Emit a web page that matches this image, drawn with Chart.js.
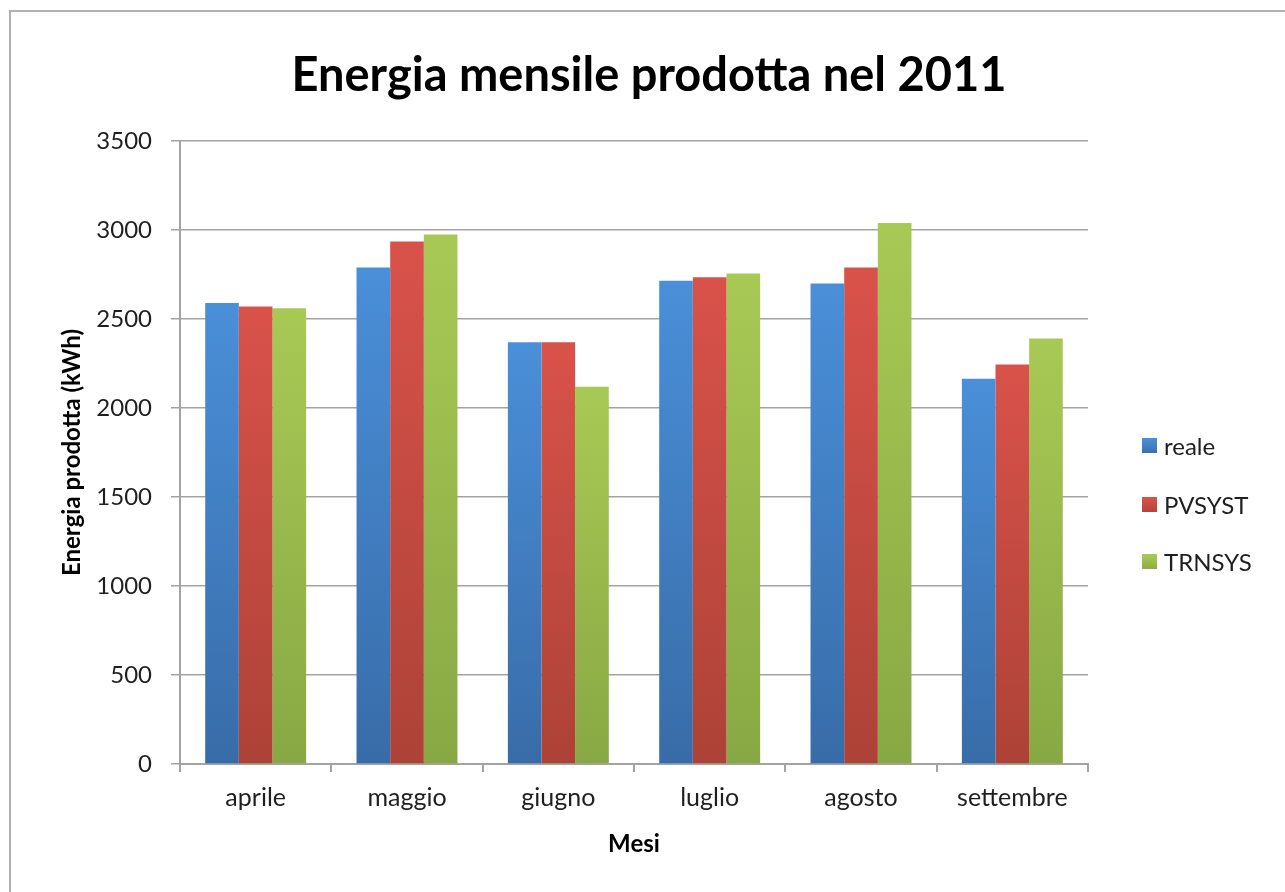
<!DOCTYPE html>
<html>
<head>
<meta charset="utf-8">
<script src="https://cdn.jsdelivr.net/npm/chart.js@4/dist/chart.umd.min.js"></script>
<style>
  html, body { margin: 0; padding: 0; background: #ffffff; }
  #wrap { width: 1285px; height: 892px; }
</style>
</head>
<body>
<div id="wrap"><canvas id="c" width="1285" height="892"></canvas></div>
<script>
// Monthly energy produced in 2011 (kWh): measured vs. two simulation tools
const months = ['aprile', 'maggio', 'giugno', 'luglio', 'agosto', 'settembre'];
const reale  = [2590, 2790, 2370, 2715, 2700, 2165];
const pvsyst = [2570, 2935, 2370, 2735, 2790, 2245];
const trnsys = [2560, 2975, 2120, 2755, 3040, 2390];
const seriesNames = ['reale', 'PVSYST', 'TRNSYS'];
const yTickValues = [0, 500, 1000, 1500, 2000, 2500, 3000, 3500];
const chartTitle = 'Energia mensile prodotta nel 2011';

// top / bottom shades of each series' vertical gradient
const shades = [
  ['#4a8fd9', '#386ca8'],
  ['#d9524a', '#ad4237'],
  ['#a9c955', '#88a844']
];

const FONT = 'Lato, "Open Sans", sans-serif';
const TEXT = '#1f1f1f';
const GRID = '#a3a3a3';

function barFill(i) {
  return (ctx) => {
    const chart = ctx.chart;
    const ys = chart.scales && chart.scales.y;
    if (!chart.chartArea || !ys || ctx.type !== 'data') return shades[i][1];
    const top = ys.getPixelForValue(ctx.raw);
    const base = ys.getPixelForValue(0);
    const g = chart.ctx.createLinearGradient(0, top, 0, base);
    g.addColorStop(0, shades[i][0]);
    g.addColorStop(1, shades[i][1]);
    return g;
  };
}

// white page, thin frame and the heading centred over the whole figure
const framePlugin = {
  id: 'frame',
  beforeDraw(chart) {
    const c = chart.ctx;
    c.save();
    c.fillStyle = '#ffffff';
    c.fillRect(0, 0, chart.width, chart.height);
    c.strokeStyle = '#b0b0b0';
    c.lineWidth = 2;
    c.strokeRect(10, 11, chart.width + 20, chart.height + 20);
    c.fillStyle = '#000000';
    c.font = 'bold 47px ' + FONT;
    c.textAlign = 'center';
    c.textBaseline = 'middle';
    c.fillText(chartTitle, 649, 76);
    c.restore();
  }
};

// series key stacked at the right of the plot
const keyPlugin = {
  id: 'seriesKey',
  afterDraw(chart) {
    const c = chart.ctx;
    const rows = [447, 506, 563];
    c.save();
    chart.data.datasets.forEach((ds, i) => {
      const y = rows[i];
      const g = c.createLinearGradient(0, y - 8, 0, y + 8);
      g.addColorStop(0, shades[i][0]);
      g.addColorStop(1, shades[i][1]);
      c.fillStyle = g;
      c.fillRect(1142, y - 9, 15, 15);
      c.fillStyle = TEXT;
      c.font = '24px ' + FONT;
      c.textBaseline = 'middle';
      c.textAlign = 'left';
      c.fillText(ds.label, 1164, y);
    });
    c.restore();
  }
};

new Chart(document.getElementById('c'), {
  type: 'bar',
  data: {
    labels: months,
    datasets: [
      { label: seriesNames[0], data: reale,  backgroundColor: barFill(0) },
      { label: seriesNames[1], data: pvsyst, backgroundColor: barFill(1) },
      { label: seriesNames[2], data: trnsys, backgroundColor: barFill(2) }
    ]
  },
  options: {
    responsive: false,
    animation: false,
    layout: { padding: { left: 0, right: 197, top: 141, bottom: 0 } },
    datasets: { bar: { categoryPercentage: 0.667, barPercentage: 1.0, borderWidth: 0 } },
    plugins: {
      legend: { display: false },
      tooltip: { enabled: false },
      title: { display: false }
    },
    scales: {
      x: {
        afterFit(scale) { scale.height = 128; },
        border: { display: true, color: GRID, width: 2 },
        grid: { display: true, drawOnChartArea: false, drawTicks: true, tickLength: 8, color: GRID, lineWidth: 2, offset: true },
        ticks: { color: TEXT, font: { family: FONT, size: 25 }, padding: 11 },
        title: {
          display: true, text: 'Mesi', color: '#000000',
          font: { family: FONT, size: 24, weight: 'bold', lineHeight: 1.2 },
          padding: { top: 0, bottom: 33 }
        }
      },
      y: {
        min: 0, max: 3500,
        afterFit(scale) { scale.width = 180; },
        afterBuildTicks(scale) { scale.ticks = yTickValues.map(v => ({ value: v })); },
        border: { display: true, color: GRID, width: 2 },
        grid: { color: GRID, lineWidth: 1.5, drawTicks: true, tickLength: 9 },
        ticks: {
          color: TEXT, font: { family: FONT, size: 24 }, padding: 19,
          callback: (v) => String(v)
        },
        title: {
          display: true, text: 'Energia prodotta (kWh)', color: '#000000',
          font: { family: FONT, size: 24, weight: 'bold', lineHeight: 1.2 },
          padding: { top: 58, bottom: 0 }
        }
      }
    }
  },
  plugins: [framePlugin, keyPlugin]
});
</script>
</body>
</html>
